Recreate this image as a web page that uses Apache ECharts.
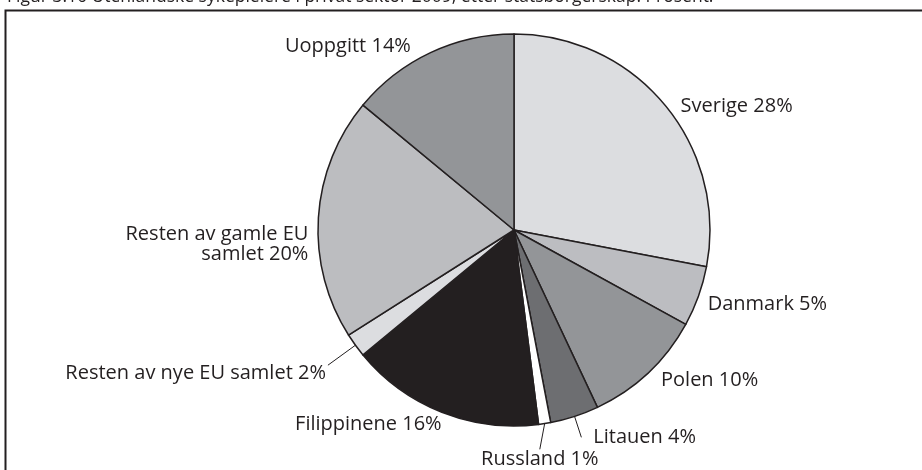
<!DOCTYPE html>
<html>
<head>
<meta charset="utf-8">
<script src="https://cdn.jsdelivr.net/npm/echarts@6/dist/echarts.min.js"></script>
<style>
  html, body { margin: 0; padding: 0; background: #fff; }
  #main { width: 922px; height: 470px; }
</style>
</head>
<body>
<div id="main"></div>
<script>
// data
const titleText = "Figur 3.16 Utenlandske sykepleiere i privat sektor 2009, etter statsborgerskap. Prosent."
const names = [
  "Sverige", "Danmark", "Polen", "Litauen", "Russland",
  "Filippinene", "Resten av nye EU samlet", "Resten av gamle EU\nsamlet", "Uoppgitt"
]
const values = [28, 5, 10, 4, 1, 16, 2, 20, 14]

// styles
const colors = [
  "#dcdde0", "#bcbdc1", "#939598", "#6d6e71", "#ffffff",
  "#231f20", "#dcdde0", "#bcbdc0", "#939598"
]
const labelCfg = [
  { length: 2, length2: 10, line: false, dy: 3 },
  { length: 12, length2: 1, line: false, dx: -7, dy: 4 },
  { length: 10, length2: 2, line: false },
  { length: 22, length2: 0, line: true, dx: 8 },
  { length: 20, length2: 0, line: true, below: true, dx: -8, dy: 6 },
  { length: 6, length2: 0, line: false, dx: 6, dy: 6 },
  { length: 34, length2: 0, line: true, dx: 2, dy: 8 },
  { length: 8, length2: 2, line: false, dx: 4, dy: 27 },
  { length: 4, length2: 14, line: false, dy: -3 }
]

const chart = echarts.init(document.getElementById("main"))

const pieData = names.map((n, i) => ({
  name: n,
  value: values[i],
  itemStyle: { color: colors[i] },
  labelLine: {
    show: labelCfg[i].line,
    length: labelCfg[i].length,
    length2: labelCfg[i].length2
  }
}))

const option = {
  animation: false,
  graphic: [
    {
      type: "rect",
      shape: { x: 5.5, y: 10.5, width: 940, height: 480 },
      style: { fill: "none", stroke: "#231f20", lineWidth: 2 },
      silent: true
    },
    {
      type: "text",
      x: 7,
      y: 6,
      style: {
        text: titleText,
        font: "17.5px 'Open Sans'",
        fill: "#231f20",
        verticalAlign: "bottom"
      },
      silent: true
    }
  ],
  series: [
    {
      type: "pie",
      center: [514, 230],
      radius: 196,
      startAngle: 90,
      clockwise: true,
      avoidLabelOverlap: false,
      data: pieData,
      itemStyle: { borderColor: "#231f20", borderWidth: 1.5 },
      emphasis: { disabled: true },
      label: {
        show: true,
        position: "outside",
        formatter: "{b} {c}%",
        fontFamily: "Open Sans",
        fontSize: 20,
        lineHeight: 20,
        color: "#231f20",
        distanceToLabelLine: 4
      },
      labelLine: {
        lineStyle: { color: "#231f20", width: 1 },
        smooth: false
      },
      labelLayout: function (params) {
        const cfg = labelCfg[params.dataIndex]
        const pts = params.labelLinePoints
        if (cfg.below && pts) {
          const end = pts[pts.length - 1]
          return { x: end[0] + cfg.dx, y: end[1] + cfg.dy, align: "center", verticalAlign: "top" }
        }
        return { dx: cfg.dx || 0, dy: cfg.dy || 0 }
      }
    }
  ]
}

chart.setOption(option)
</script>
</body>
</html>
